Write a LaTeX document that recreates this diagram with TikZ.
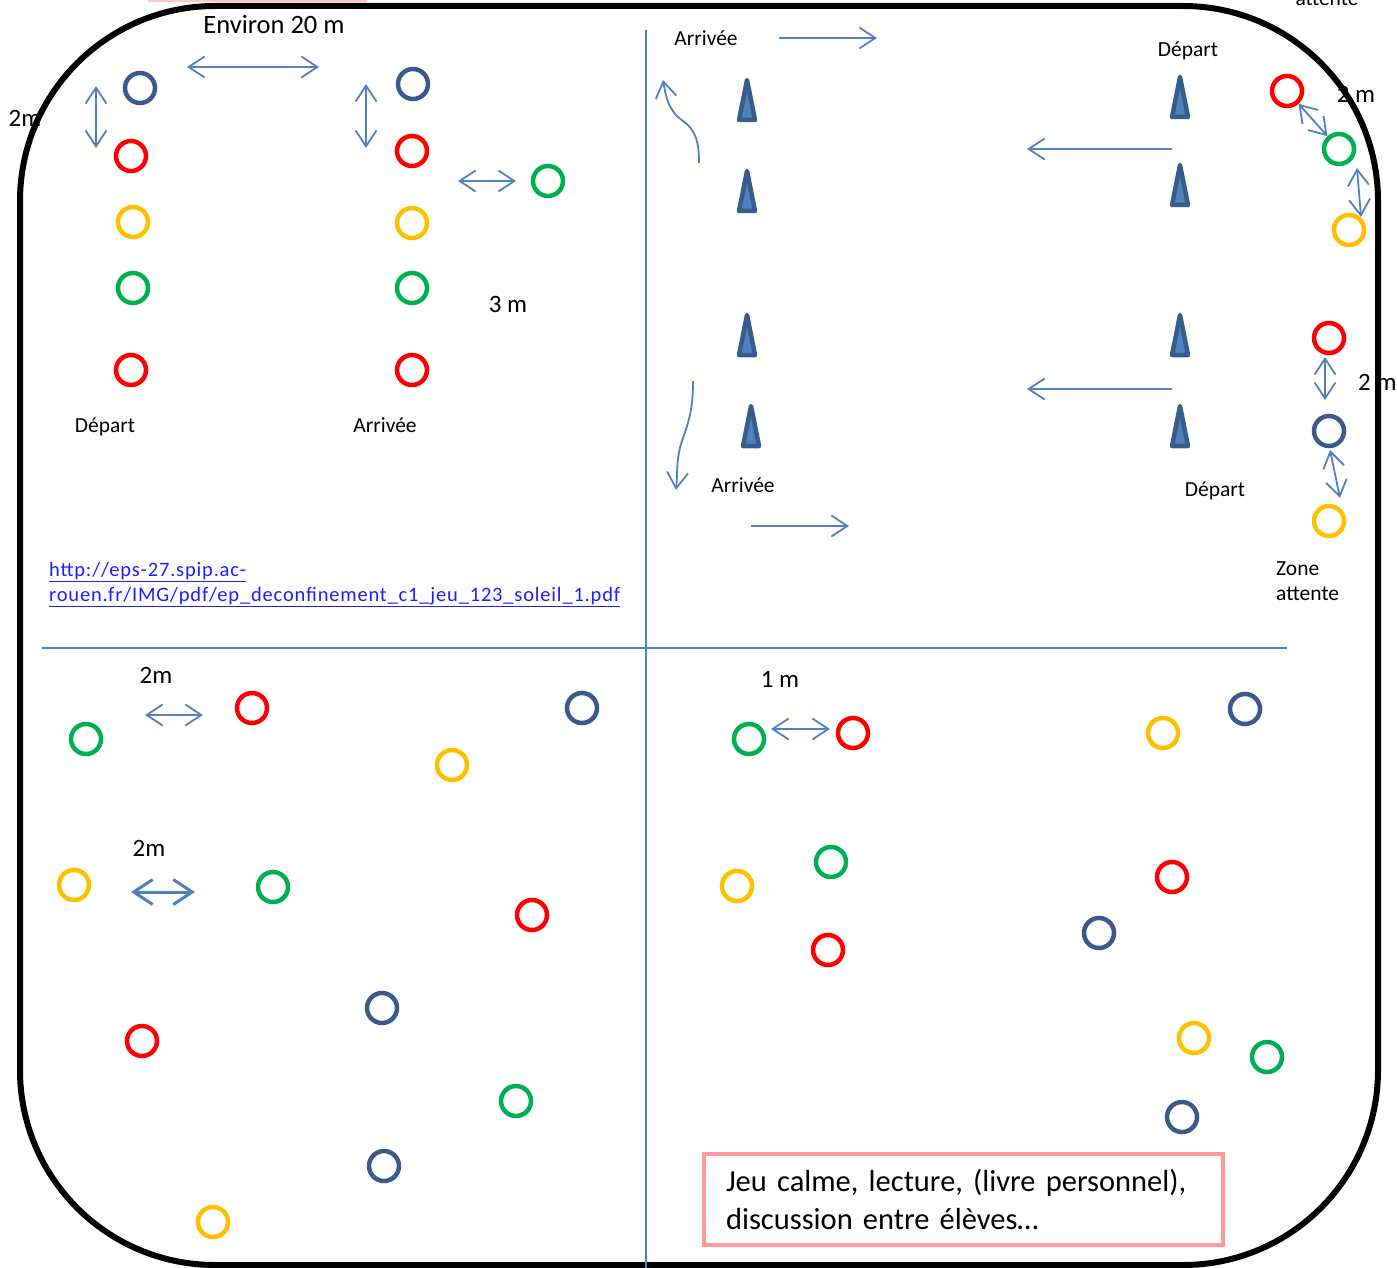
\documentclass[tikz,border=0pt]{standalone}
\usepackage{fontspec}
\setmainfont{Carlito}
\usetikzlibrary{arrows.meta}
\definecolor{ringred}{RGB}{255,0,0}
\definecolor{ringyellow}{RGB}{255,192,0}
\definecolor{ringgreen}{RGB}{0,176,80}
\definecolor{ringblue}{RGB}{59,90,140}
\definecolor{lineblue}{RGB}{79,129,189}
\definecolor{conedark}{RGB}{56,93,138}
\definecolor{notepink}{RGB}{255,153,153}
\definecolor{linkblue}{RGB}{30,30,255}
\tikzset{ring/.style={circle,draw=#1,line width=4.5pt,minimum size=30pt,inner sep=0pt},
         dim/.style={<->,draw=lineblue,line width=1.8pt},
         flow/.style={->,draw=lineblue,line width=1.8pt},
         divider/.style={draw=lineblue,line width=2pt},
         cone/.style={draw=conedark,fill=lineblue,line width=4.5pt,line join=round},
         smalltxt/.style={inner sep=0pt,font=\fontsize{21.5}{25}\selectfont},
         bigtxt/.style={inner sep=0pt,font=\fontsize{25}{30}\selectfont}
}

\begin{document}
\begin{tikzpicture}[x=1pt,y=-1pt,>={Straight Barb[length=16pt,width=21pt]}]
  \useasboundingbox (0,0) rectangle (1397,1268);
  \fill[red!22] (148,-5) rectangle (367,2);
  \node[smalltxt, anchor=base] (att) at (1327,6) {attente};

  % field border and the four zones
  \draw[line width=6pt, rounded corners=195pt] (20,6) rectangle (1378,1265);
  \coordinate (vtop) at (646,30);
  \coordinate (vbot) at (646,1270);
  \coordinate (hleft) at (42,648);
  \coordinate (hright) at (1287,648);
  \draw[divider] (vtop) -- (vbot);
  \draw[divider] (hleft) -- (hright);

  % top left: relay
  \node[ring=ringblue] (s1) at (140,88) {};
  \node[ring=ringred] (s2) at (131,156) {};
  \node[ring=ringyellow] (s3) at (133,222) {};
  \node[ring=ringgreen] (s4) at (133,288) {};
  \node[ring=ringred] (s5) at (131,370) {};
  \node[ring=ringblue] (f1) at (413,84) {};
  \node[ring=ringred] (f2) at (412,151) {};
  \node[ring=ringyellow] (f3) at (412,223) {};
  \node[ring=ringgreen] (f4) at (412,288) {};
  \node[ring=ringred] (f5) at (412,370) {};
  \node[ring=ringgreen] (g1) at (548,181) {};
  \node[bigtxt, font=\fontsize{26.5}{30}\selectfont] (env) at (274,24) {Environ 20 m};
  \node[bigtxt] (d2m) at (25,118) {2m};
  \node[bigtxt] (d3m) at (508,304) {3 m};
  \node[smalltxt] (dep1) at (105,427) {Départ};
  \node[smalltxt] (arr1) at (385,425) {Arrivée};
  \coordinate (e1) at (187,67);
  \coordinate (e2) at (319,67);
  \coordinate (v1) at (96,86);
  \coordinate (v2) at (96,148);
  \coordinate (v3) at (366,84);
  \coordinate (v4) at (366,148);
  \coordinate (h1) at (458,181);
  \coordinate (h2) at (516,181);
  \draw[dim] (e1) -- (e2);
  \draw[dim] (v1) -- (v2);
  \draw[dim] (v3) -- (v4);
  \draw[dim] (h1) -- (h2);
  \node[smalltxt, anchor=north west, align=left, text=linkblue,
        font=\addfontfeatures{LetterSpace=4}\fontsize{20.5}{25}\selectfont] (url) at (49,562)
        {\underline{http://eps-27.spip.ac-}\\
         \underline{rouen.fr/IMG/pdf/ep\_deconfinement\_c1\_jeu\_123\_soleil\_1.pdf}};

  % top right: cones
  \coordinate (k1) at (747,100);
  \coordinate (k2) at (747,191);
  \coordinate (k3) at (747,335);
  \coordinate (k4) at (751,426);
  \coordinate (k5) at (1180,97);
  \coordinate (k6) at (1180,185);
  \coordinate (k7) at (1180,335);
  \coordinate (k8) at (1180,426);
  \draw[cone, shift={(k1)}] (0,-20) -- (8,20) -- (-8,20) -- cycle;
  \draw[cone, shift={(k2)}] (0,-20) -- (8,20) -- (-8,20) -- cycle;
  \draw[cone, shift={(k3)}] (0,-20) -- (8,20) -- (-8,20) -- cycle;
  \draw[cone, shift={(k4)}] (0,-20) -- (8,20) -- (-8,20) -- cycle;
  \draw[cone, shift={(k5)}] (0,-20) -- (8,20) -- (-8,20) -- cycle;
  \draw[cone, shift={(k6)}] (0,-20) -- (8,20) -- (-8,20) -- cycle;
  \draw[cone, shift={(k7)}] (0,-20) -- (8,20) -- (-8,20) -- cycle;
  \draw[cone, shift={(k8)}] (0,-20) -- (8,20) -- (-8,20) -- cycle;
  \node[smalltxt] (arr2) at (706,38) {Arrivée};
  \node[smalltxt] (dep2) at (1188,51) {Départ};
  \node[smalltxt] (arr3) at (743,485) {Arrivée};
  \node[smalltxt] (dep3) at (1215,491) {Départ};
  \coordinate (a1) at (779,38);
  \coordinate (a2) at (877,38);
  \coordinate (a3) at (1172,149);
  \coordinate (a4) at (1027,149);
  \coordinate (a5) at (1172,389);
  \coordinate (a6) at (1027,389);
  \coordinate (a7) at (751,526);
  \coordinate (a8) at (849,526);
  \coordinate (c1) at (699,163);
  \coordinate (c2) at (683,121);
  \coordinate (c3) at (663,80);
  \coordinate (c4) at (693,381);
  \coordinate (c5) at (683,438);
  \coordinate (c6) at (676,490);
  \draw[flow] (a1) -- (a2);
  \draw[flow] (a3) -- (a4);
  \draw[flow] (a5) -- (a6);
  \draw[flow] (a7) -- (a8);
  \draw[flow] (c1) to[out=90,in=-35] (c2) to[out=145,in=-80] (c3);
  \draw[flow] (c4) to[out=-90,in=70] (c5) to[out=-110,in=85] (c6);

  % waiting zone
  \node[ring=ringred] (z1) at (1287,91) {};
  \node[ring=ringgreen] (z2) at (1339,149) {};
  \node[ring=ringyellow] (z3) at (1349,230) {};
  \node[ring=ringred] (z4) at (1329,338) {};
  \node[ring=ringblue] (z5) at (1329,431) {};
  \node[ring=ringyellow] (z6) at (1329,521) {};
  \coordinate (z7) at (1357,168);
  \coordinate (z8) at (1361,217);
  \coordinate (z9) at (1325,357);
  \coordinate (z10) at (1325,400);
  \coordinate (z11) at (1330,450);
  \coordinate (z12) at (1340,498);
  \draw[dim] (z1) -- (z2);
  \draw[dim] (z7) -- (z8);
  \draw[dim] (z9) -- (z10);
  \draw[dim] (z11) -- (z12);
  \node[bigtxt] (dz1) at (1356,94) {2 m};
  \node[bigtxt, anchor=west] (dz2) at (1358,382) {2 m};
  \node[smalltxt, anchor=west, align=left] (zone) at (1276,581) {Zone\\attente};

  % bottom left: free spread
  \node[ring=ringgreen] (b1) at (86,739) {};
  \node[ring=ringred] (b2) at (252,708) {};
  \node[ring=ringblue] (b3) at (582,708) {};
  \node[ring=ringyellow] (b4) at (452,765) {};
  \node[ring=ringyellow] (b5) at (74,885) {};
  \node[ring=ringgreen] (b6) at (273,887) {};
  \node[ring=ringred] (b7) at (532,915) {};
  \node[ring=ringblue] (b8) at (382,1008) {};
  \node[ring=ringred] (b9) at (142,1041) {};
  \node[ring=ringgreen] (b10) at (516,1101) {};
  \node[ring=ringblue] (b11) at (384,1166) {};
  \node[ring=ringyellow] (b12) at (213,1222) {};
  \node[bigtxt] (db1) at (156,675) {2m};
  \node[bigtxt] (db2) at (149,848) {2m};
  \coordinate (m1) at (145,715);
  \coordinate (m2) at (203,715);
  \coordinate (m3) at (131,892);
  \coordinate (m4) at (195,892);
  \draw[dim] (m1) -- (m2);
  \draw[dim, line width=3pt, >={Straight Barb[length=19pt,width=25pt]}] (m3) -- (m4);

  % bottom right: calm games
  \node[ring=ringgreen] (r1) at (749,739) {};
  \node[ring=ringred] (r2) at (853,733) {};
  \node[ring=ringyellow] (r3) at (1163,733) {};
  \node[ring=ringblue] (r4) at (1245,709) {};
  \node[ring=ringyellow] (r5) at (737,886) {};
  \node[ring=ringgreen] (r6) at (831,862) {};
  \node[ring=ringred] (r7) at (828,950) {};
  \node[ring=ringred] (r8) at (1172,877) {};
  \node[ring=ringblue] (r9) at (1099,933) {};
  \node[ring=ringyellow] (r10) at (1194,1038) {};
  \node[ring=ringgreen] (r11) at (1267,1057) {};
  \node[ring=ringblue] (r12) at (1182,1117) {};
  \node[bigtxt] (dr1) at (780,679) {1 m};
  \coordinate (n1) at (771,729);
  \coordinate (n2) at (830,729);
  \draw[dim] (n1) -- (n2);
  \node[draw=notepink, line width=4pt, minimum width=519pt, minimum height=91pt,
        text width=475pt, align=left, inner sep=0pt,
        font=\fontsize{30.5}{38}\selectfont] (note) at (963.5,1199.5)
        {Jeu calme, lecture, (livre personnel),\\discussion entre élèves…};
\end{tikzpicture}
\end{document}
